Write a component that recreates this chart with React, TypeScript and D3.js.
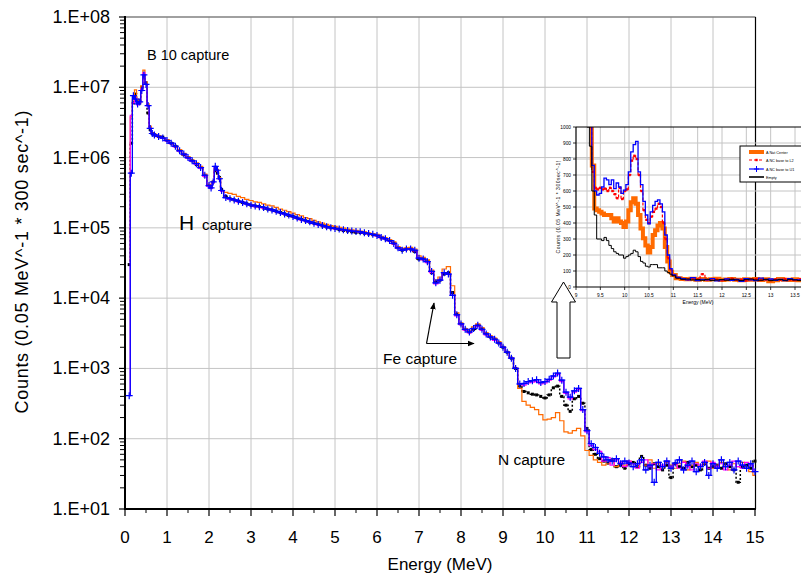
import React from 'react';
import * as d3 from 'd3';

// main chart: energy bins (MeV)
const energy = [
  0.1, 0.15, 0.2, 0.25, 0.3, 0.35, 0.4, 0.45, 0.5, 0.55, 0.6, 0.65, 0.7,
  0.8, 0.9, 1.0, 1.1, 1.2, 1.3, 1.4, 1.5, 1.6, 1.7, 1.8, 1.9, 2.0,
  2.05, 2.1, 2.15, 2.2, 2.25, 2.3,
  2.4, 2.5, 2.6, 2.7, 2.8, 2.9, 3.0, 3.1, 3.2, 3.3, 3.4, 3.5, 3.6, 3.7, 3.8, 3.9,
  4.0, 4.1, 4.2, 4.3, 4.4, 4.5, 4.6, 4.7, 4.8, 4.9, 5.0, 5.1, 5.2, 5.3, 5.4, 5.5,
  5.6, 5.7, 5.8, 5.9, 6.0, 6.1, 6.2, 6.3, 6.4, 6.5, 6.6, 6.7, 6.8, 6.9, 7.0, 7.1,
  7.2, 7.3, 7.4, 7.5, 7.6, 7.7, 7.8, 7.9, 8.0, 8.1, 8.2, 8.3, 8.4, 8.5, 8.6, 8.7,
  8.8, 8.9, 9.0, 9.1, 9.2, 9.3, 9.4, 9.5, 9.6, 9.7, 9.8, 9.9, 10.0, 10.1, 10.2,
  10.3, 10.4, 10.5, 10.6, 10.7, 10.8, 10.9, 11.0,
  11.1, 11.2, 11.3, 11.4, 11.5, 11.6, 11.7, 11.8, 11.9, 12.0, 12.1, 12.2, 12.3,
  12.4, 12.5, 12.6, 12.7, 12.8, 12.9, 13.0, 13.1, 13.2, 13.3, 13.4, 13.5, 13.6,
  13.7, 13.8, 13.9, 14.0, 14.1, 14.2, 14.3, 14.4, 14.5, 14.6, 14.7, 14.8, 14.9, 15.0,
];

// orange
const natCenter = [
  3.5e4, 3.8e6, 6.6e6, 9.2e6, 6.8e6, 6.6e6, 1.05e7, 1.75e7, 1.2e7, 5.8e6, 2.8e6, 2.25e6, 2.15e6,
  2.05e6, 1.9e6, 1.8e6, 1.6e6, 1.45e6, 1.3e6, 1.15e6, 1.02e6, 9.2e5, 8.4e5, 7.5e5, 5.8e5, 4.2e5,
  3.9e5, 4.6e5, 7.0e5, 6.8e5, 5.2e5, 3.3e5,
  3.2e5, 3.1e5, 3.0e5, 2.8e5, 2.7e5, 2.55e5, 2.45e5, 2.35e5, 2.3e5, 2.2e5, 2.1e5, 2.05e5,
  1.95e5, 1.85e5, 1.78e5, 1.7e5, 1.62e5, 1.55e5, 1.48e5, 1.4e5, 1.35e5, 1.28e5, 1.22e5,
  1.17e5, 1.12e5, 1.08e5, 1.05e5, 1.02e5, 9.9e4, 9.6e4, 9.4e4, 9.2e4, 9.0e4, 8.8e4, 8.5e4,
  8.3e4, 8.1e4, 7.6e4, 7.2e4, 6.8e4, 6.3e4, 5.4e4, 5.1e4, 5.2e4, 5.3e4, 5.0e4, 4.0e4, 3.8e4,
  3.5e4, 2.5e4, 1.8e4, 2.0e4, 2.6e4, 2.8e4, 1.5e4, 6.2e3, 4.4e3, 3.7e3, 3.4e3, 3.9e3, 4.3e3,
  3.8e3, 3.2e3, 2.9e3, 2.7e3, 2.4e3, 2.0e3, 1.7e3, 1.4e3, 1.0e3, 520, 340, 300, 280, 260,
  220, 185, 190, 200, 235, 180, 125, 120, 130, 140, 110, 68,
  58, 50, 46, 42, 44, 50, 40, 46, 42, 48, 44, 40, 46, 42, 50, 38, 44, 40, 46, 42,
  38, 44, 48, 36, 42, 46, 40, 44, 48, 38, 42, 46, 40, 36, 44, 40, 46, 38, 34, 30,
];

// magenta
const baseL2 = [
  420, 4.0e6, 6.0e6, 7.0e6, 5.6e6, 6.0e6, 9.5e6, 1.6e7, 1.1e7, 5.4e6, 2.6e6, 2.2e6, 2.1e6,
  1.98e6, 1.88e6, 1.72e6, 1.58e6, 1.42e6, 1.22e6, 1.1e6, 9.8e5, 8.8e5, 8.0e5, 7.0e5, 5.4e5, 3.9e5,
  3.6e5, 4.4e5, 7.3e5, 6.4e5, 4.9e5, 3.3e5,
  2.7e5, 2.55e5, 2.5e5, 2.35e5, 2.3e5, 2.2e5, 2.1e5, 2.0e5, 1.98e5, 1.9e5, 1.85e5, 1.78e5,
  1.7e5, 1.64e5, 1.56e5, 1.5e5, 1.44e5, 1.37e5, 1.3e5, 1.26e5, 1.2e5, 1.15e5, 1.1e5,
  1.07e5, 1.03e5, 1.0e5, 9.7e4, 9.5e4, 9.3e4, 9.1e4, 9.0e4, 8.8e4, 8.7e4, 8.4e4, 8.2e4,
  8.0e4, 7.7e4, 7.2e4, 6.9e4, 6.5e4, 5.9e4, 5.1e4, 4.8e4, 4.9e4, 5.0e4, 4.7e4, 3.7e4, 3.5e4,
  3.2e4, 2.3e4, 1.6e4, 1.8e4, 2.3e4, 2.2e4, 1.1e4, 5.6e3, 4.2e3, 3.5e3, 3.2e3, 3.7e3, 4.0e3,
  3.5e3, 3.0e3, 2.8e3, 2.5e3, 2.3e3, 2.0e3, 1.7e3, 1.4e3, 1.0e3, 600, 580, 620, 640, 650,
  600, 620, 680, 760, 820, 650, 440, 370, 460, 500, 250, 125,
  80, 70, 66, 48, 54, 42, 50, 46, 40, 48, 44, 38, 46, 50, 40, 44, 36, 42, 48, 40,
  44, 38, 46, 40, 36, 44, 42, 48, 38, 46, 40, 44, 36, 42, 48, 40, 38, 46, 42, 36,
];

// blue with + markers
const baseU1 = [
  410, 6.0e5, 7.6e6, 6.8e6, 5.8e6, 6.2e6, 9.0e6, 1.5e7, 1.1e7, 5.5e6, 2.6e6, 2.2e6, 2.1e6,
  2.0e6, 1.9e6, 1.75e6, 1.6e6, 1.45e6, 1.25e6, 1.12e6, 1.0e6, 9.0e5, 8.2e5, 7.2e5, 5.6e5, 4.0e5,
  3.7e5, 4.5e5, 7.5e5, 6.6e5, 5.0e5, 3.4e5,
  2.7e5, 2.6e5, 2.5e5, 2.4e5, 2.3e5, 2.2e5, 2.1e5, 2.05e5, 2.0e5, 1.95e5, 1.85e5, 1.8e5,
  1.72e5, 1.65e5, 1.58e5, 1.52e5, 1.45e5, 1.38e5, 1.32e5, 1.27e5, 1.22e5, 1.16e5, 1.12e5,
  1.08e5, 1.04e5, 1.0e5, 9.8e4, 9.6e4, 9.4e4, 9.2e4, 9.0e4, 8.9e4, 8.8e4, 8.5e4, 8.3e4,
  8.1e4, 7.8e4, 7.3e4, 7.0e4, 6.6e4, 6.0e4, 5.2e4, 4.8e4, 5.0e4, 5.0e4, 4.8e4, 3.7e4, 3.6e4,
  3.3e4, 2.4e4, 1.65e4, 1.8e4, 2.3e4, 2.2e4, 1.1e4, 5.8e3, 4.3e3, 3.6e3, 3.3e3, 3.7e3, 4.1e3,
  3.6e3, 3.1e3, 2.8e3, 2.6e3, 2.3e3, 2.0e3, 1.7e3, 1.4e3, 1.0e3, 600, 610, 650, 670, 690,
  630, 650, 700, 780, 860, 680, 460, 390, 480, 520, 260, 130,
  85, 75, 62, 55, 50, 48, 52, 44, 48, 45, 40, 44, 50, 36, 42, 24, 46, 40, 48, 38,
  45, 50, 36, 42, 48, 34, 40, 46, 30, 44, 38, 50, 40, 46, 36, 48, 42, 38, 44, 34,
];

// black dotted
const emptyRun = [
  3.0e4, 1.6e6, 6.0e6, 8.0e6, 6.2e6, 6.0e6, 1.0e7, 1.45e7, 1.15e7, 4.3e6, 2.5e6, 2.2e6, 2.1e6,
  2.0e6, 1.95e6, 1.75e6, 1.6e6, 1.45e6, 1.25e6, 1.1e6, 1.0e6, 9.0e5, 8.0e5, 7.2e5, 5.5e5, 4.0e5,
  3.8e5, 4.5e5, 6.5e5, 6.0e5, 5.2e5, 3.5e5,
  2.8e5, 2.6e5, 2.5e5, 2.4e5, 2.3e5, 2.2e5, 2.1e5, 2.05e5, 2.0e5, 1.92e5, 1.85e5, 1.8e5,
  1.72e5, 1.65e5, 1.58e5, 1.5e5, 1.45e5, 1.38e5, 1.32e5, 1.26e5, 1.2e5, 1.16e5, 1.12e5,
  1.07e5, 1.03e5, 1.0e5, 9.8e4, 9.5e4, 9.2e4, 9.0e4, 8.8e4, 8.6e4, 8.6e4, 8.4e4, 8.2e4,
  8.0e4, 7.8e4, 7.2e4, 7.0e4, 6.6e4, 6.0e4, 5.2e4, 4.8e4, 5.0e4, 5.0e4, 4.6e4, 3.6e4, 3.6e4,
  3.3e4, 2.3e4, 1.7e4, 1.8e4, 2.2e4, 2.3e4, 1.2e4, 5.9e3, 4.3e3, 3.6e3, 3.3e3, 3.6e3, 4.1e3,
  3.6e3, 3.1e3, 2.8e3, 2.6e3, 2.3e3, 2.0e3, 1.7e3, 1.4e3, 1.0e3, 560, 470, 450, 430, 420,
  400, 380, 420, 530, 560, 400, 300, 245, 370, 400, 320, 140,
  70, 60, 52, 48, 45, 50, 40, 42, 38, 44, 46, 40, 56, 42, 38, 44, 40, 36, 42, 28,
  44, 40, 38, 46, 40, 42, 36, 44, 38, 40, 42, 38, 44, 40, 36, 24, 40, 42, 38, 48,
];

const yTicks = [1e1, 1e2, 1e3, 1e4, 1e5, 1e6, 1e7, 1e8];
const yTickLabels = ['1.E+01', '1.E+02', '1.E+03', '1.E+04', '1.E+05', '1.E+06', '1.E+07', '1.E+08'];
const xTicks = [0, 1, 2, 3, 4, 5, 6, 7, 8, 9, 10, 11, 12, 13, 14, 15];

// inset (linear counts, 9 - 14 MeV)
const insetEnergy = [
  9.2, 9.25, 9.3, 9.35, 9.4, 9.45, 9.5, 9.55, 9.6, 9.65, 9.7, 9.75, 9.8, 9.85, 9.9, 9.95,
  10.0, 10.05, 10.1, 10.15, 10.2, 10.25, 10.3, 10.35, 10.4, 10.45, 10.5, 10.55, 10.6, 10.65,
  10.7, 10.75, 10.8, 10.85, 10.9, 10.95, 11.0,
  11.1, 11.2, 11.3, 11.4, 11.5, 11.6, 11.7, 11.8, 11.9, 12.0, 12.1, 12.2, 12.3, 12.4,
  12.5, 12.6, 12.7, 12.8, 12.9, 13.0, 13.1, 13.2, 13.3, 13.4, 13.5, 13.6, 13.7, 13.8,
];
const insetCenter = [
  1500, 1200, 1050, 760, 490, 480, 470, 460, 450, 450, 450, 430, 410, 430, 410, 400,
  375, 410, 480, 530, 555, 520, 450, 365, 305, 260, 215, 250, 325, 355,
  385, 400, 365, 250, 160, 95, 75,
  55, 50, 48, 52, 45, 50, 46, 48, 52, 44, 47, 50, 45, 42,
  48, 46, 50, 44, 48, 36, 42, 50, 46, 44, 48, 42, 46, 44,
];
const insetL2 = [
  1400, 1200, 1000, 720, 620, 610, 620, 610, 615, 600, 620, 600, 580, 555, 620, 550,
  600, 610, 700, 790, 820, 800, 700, 600, 480, 420, 400, 440, 470, 490,
  520, 500, 400, 300, 180, 110, 75,
  58, 50, 46, 52, 48, 80, 44, 50, 46, 42, 48, 52, 44, 46,
  40, 48, 50, 44, 46, 42, 48, 44, 50, 46, 42, 48, 44, 46,
];
const insetU1 = [
  1500, 1300, 1100, 760, 600, 575, 585, 625, 680, 670, 640, 670, 615, 650, 625, 585,
  605, 640, 720, 845, 890, 910, 720, 640, 535, 450, 395, 470, 510, 535,
  545, 520, 470, 325, 200, 115, 75,
  60, 52, 45, 58, 40, 48, 44, 52, 38, 46, 50, 42, 48, 36,
  52, 44, 40, 55, 46, 50, 42, 48, 40, 52, 46, 44, 48, 42,
];
const insetEmpty = [
  1200, 1000, 880, 600, 450, 300, 300, 290, 310, 290, 260, 240, 220, 210, 200, 200,
  180, 190, 200, 210, 230, 220, 190, 160, 150, 130, 125, 140, 140, 140,
  120, 120, 120, 100, 90, 80, 70,
  55, 48, 50, 44, 46, 42, 48, 40, 44, 46, 42, 48, 44, 40,
  46, 50, 44, 42, 48, 40, 44, 46, 42, 48, 44, 40, 46, 44,
];
const insetXTicks = [9, 9.5, 10, 10.5, 11, 11.5, 12, 12.5, 13, 13.5, 14];
const insetXTickLabels = ['9', '9.5', '10', '10.5', '11', '11.5', '12', '12.5', '13', '13.5', '14'];
const insetYTicks = [0, 100, 200, 300, 400, 500, 600, 700, 800, 900, 1000];
const legendNames = ['A Nat Center', 'A NC base to L2', 'A NC base to U1', 'Empty'];

const FONT = "'Liberation Sans', Arial, Helvetica, sans-serif";
const ORANGE = '#ff6a00';

const App = () => {
  // main scales
  const x = d3.scaleLinear().domain([0, 15]).range([125, 755]);
  const y = d3.scaleLog().domain([10, 1e8]).range([509, 17]);

  const line = d3.line<number>()
    .x((_, i) => x(energy[i]))
    .y(d => y(d))
    .curve(d3.curveStep);

  const plus = baseU1.map((d, i) => {
    const px = x(energy[i]);
    const py = y(d);
    return `M${px - 3.5},${py}h7M${px},${py - 3.5}v7`;
  }).join('');

  const minorY = y.ticks().filter(t => !yTicks.includes(t));

  // inset scales
  const xi = d3.scaleLinear().domain([9, 13.5]).range([576, 795]);
  const yi = d3.scaleLinear().domain([0, 1000]).range([287, 127]);
  const lineIn = d3.line<number>()
    .x((_, i) => xi(insetEnergy[i]))
    .y(d => yi(d))
    .curve(d3.curveStep);

  const fe = { x: 426.5, y: 343.5 };

  return (
    <svg width={801} height={575} style={{ position: 'absolute', left: 0, top: 0, background: '#fff' }}
      fontFamily={FONT}>
      <defs>
        <clipPath id="insetClip">
          <rect x={576} y={127} width={260} height={160} />
        </clipPath>
        <marker id="head" viewBox="0 0 10 10" refX="9" refY="5" markerWidth="7" markerHeight="7"
          orient="auto-start-reverse" markerUnits="userSpaceOnUse">
          <path d="M0,1 L10,5 L0,9 z" fill="#000" />
        </marker>
      </defs>
      <rect x={0} y={0} width={801} height={575} fill="#fff" />

      {/* main gridlines */}
      {xTicks.slice(1, -1).map(t => (
        <line key={'gx' + t} x1={x(t)} x2={x(t)} y1={17} y2={509} stroke="#c4c4c4" strokeWidth={1} />
      ))}
      {yTicks.slice(1, -1).map(t => (
        <line key={'gy' + t} x1={125} x2={755} y1={y(t)} y2={y(t)} stroke="#c4c4c4" strokeWidth={1} />
      ))}
      <line x1={125} x2={755.5} y1={17} y2={17} stroke="#808080" strokeWidth={1.5} />
      <line x1={755.5} x2={755.5} y1={17} y2={509} stroke="#000" strokeWidth={1.2} />

      {/* main series */}
      <path d={line(emptyRun) ?? ''} fill="none" stroke="#000" strokeWidth={1.5} strokeDasharray="2,2" />
      {emptyRun.map((d, i) => (
        <rect key={'sq' + i} x={x(energy[i]) - 1.5} y={y(d) - 1.5} width={3} height={3} fill="#000" />
      ))}
      <path d={line(natCenter) ?? ''} fill="none" stroke={ORANGE} strokeWidth={1.2} />
      <path d={line(baseL2) ?? ''} fill="none" stroke="#ff00ff" strokeWidth={1.2} />
      <path d={line(baseU1) ?? ''} fill="none" stroke="#0000ff" strokeWidth={1.3} />
      <path d={plus} fill="none" stroke="#0000ff" strokeWidth={1.2} />

      {/* axes */}
      <line x1={125} x2={125} y1={16} y2={510} stroke="#000" strokeWidth={2} />
      <line x1={124} x2={756} y1={509} y2={509} stroke="#000" strokeWidth={2} />
      {yTicks.map((t, i) => (
        <g key={'yt' + t}>
          <line x1={119} x2={125} y1={y(t)} y2={y(t)} stroke="#000" strokeWidth={1.2} />
          <text x={110} y={y(t) + 6} textAnchor="end" fontSize={18} fill="#000">{yTickLabels[i]}</text>
        </g>
      ))}
      {minorY.map(t => (
        <line key={'ym' + t} x1={120} x2={125} y1={y(t)} y2={y(t)} stroke="#000" strokeWidth={1} />
      ))}
      {xTicks.map(t => (
        <g key={'xt' + t}>
          <line x1={x(t)} x2={x(t)} y1={509} y2={516} stroke="#000" strokeWidth={1.2} />
          <text x={x(t)} y={543} textAnchor="middle" fontSize={17} fill="#000">{t}</text>
        </g>
      ))}
      {xTicks.slice(0, -1).map(t => (
        <line key={'xm' + t} x1={x(t + 0.5)} x2={x(t + 0.5)} y1={509} y2={513} stroke="#000" strokeWidth={1} />
      ))}
      <text x={440} y={570} textAnchor="middle" fontSize={17} fill="#000">Energy (MeV)</text>
      <text transform="translate(28,262) rotate(-90)" textAnchor="middle" fontSize={18} fill="#000"
        textLength={303} lengthAdjust="spacing">
        Counts (0.05 MeV^-1 * 300 sec^-1)
      </text>

      {/* annotations */}
      <text x={147} y={60} fontSize={14.5} fill="#000">B 10 capture</text>
      <text x={179} y={230} fontSize={21} fill="#000">H</text>
      <text x={202} y={230} fontSize={15} fill="#000">capture</text>
      <text x={383} y={364} fontSize={15.5} fill="#000">Fe capture</text>
      <text x={498} y={465} fontSize={15.5} fill="#000">N capture</text>
      <line x1={fe.x} y1={fe.y} x2={434} y2={303} stroke="#000" strokeWidth={1.2} markerEnd="url(#head)" />
      <line x1={fe.x} y1={fe.y} x2={474} y2={fe.y} stroke="#000" strokeWidth={1.2} markerEnd="url(#head)" />
      <path d="M563.5,282 L575.5,302 L570,302 L570,358 L557,358 L557,302 L551.5,302 Z"
        fill="#fff" stroke="#000" strokeWidth={1} />

      {/* inset chart */}
      <g>
        {insetYTicks.slice(1, -1).map(t => (
          <line key={'igy' + t} x1={576} x2={801} y1={yi(t)} y2={yi(t)} stroke="#c4c4c4" strokeWidth={1} />
        ))}
        {insetXTicks.slice(1).map(t => (
          <line key={'igx' + t} x1={xi(t)} x2={xi(t)} y1={127} y2={287} stroke="#c4c4c4" strokeWidth={1} />
        ))}
        <g clipPath="url(#insetClip)">
          <path d={lineIn(insetCenter) ?? ''} fill="none" stroke={ORANGE} strokeWidth={4} />
          <path d={lineIn(insetL2) ?? ''} fill="none" stroke="#ff0000" strokeWidth={1.2} strokeDasharray="3,2" />
          {insetL2.map((d, i) => (
            <rect key={'ir' + i} x={xi(insetEnergy[i]) - 1.2} y={yi(d) - 1.2} width={2.4} height={2.4} fill="#ff0000" />
          ))}
          <path d={lineIn(insetU1) ?? ''} fill="none" stroke="#0000ff" strokeWidth={1.3} />
          <path d={lineIn(insetEmpty) ?? ''} fill="none" stroke="#000" strokeWidth={1} />
        </g>
        <line x1={576} x2={801} y1={127} y2={127} stroke="#000" strokeWidth={1} />
        <line x1={576} x2={576} y1={127} y2={287} stroke="#000" strokeWidth={1.2} />
        <line x1={576} x2={801} y1={287} y2={287} stroke="#000" strokeWidth={1.2} />
        {insetYTicks.map(t => (
          <g key={'iyt' + t}>
            <line x1={573} x2={576} y1={yi(t)} y2={yi(t)} stroke="#000" strokeWidth={0.8} />
            <text x={571} y={yi(t) + 1.8} textAnchor="end" fontSize={4.8} fill="#000">{t}</text>
          </g>
        ))}
        {insetXTicks.map((t, i) => (
          <g key={'ixt' + t}>
            <line x1={xi(t)} x2={xi(t)} y1={287} y2={290} stroke="#000" strokeWidth={0.8} />
            {xi(t) < 798 && (
              <text x={xi(t)} y={297} textAnchor="middle" fontSize={4.8} fill="#000">{insetXTickLabels[i]}</text>
            )}
          </g>
        ))}
        <text x={698} y={304} textAnchor="middle" fontSize={5} fill="#000">Energy (MeV)</text>
        <text transform="translate(560,207) rotate(-90)" textAnchor="middle" fontSize={5} fill="#000"
          textLength={93} lengthAdjust="spacing">
          Counts (0.05 MeV^-1 * 300sec^-1)
        </text>

        {/* inset legend */}
        <rect x={740} y={146} width={70} height={36} fill="#fff" stroke="#000" strokeWidth={1} />
        {legendNames.map((name, i) => {
          const ly = [152, 160, 169, 177][i];
          return (
            <g key={name}>
              {i === 0 && <line x1={749} x2={764} y1={ly} y2={ly} stroke={ORANGE} strokeWidth={4} />}
              {i === 1 && (
                <g>
                  <line x1={749} x2={764} y1={ly} y2={ly} stroke="#ff0000" strokeWidth={1} strokeDasharray="3,2" />
                  <rect x={755.3} y={ly - 1.2} width={2.4} height={2.4} fill="#ff0000" />
                </g>
              )}
              {i === 2 && (
                <g>
                  <line x1={749} x2={764} y1={ly} y2={ly} stroke="#0000ff" strokeWidth={1.2} />
                  <path d={`M${756.5},${ly - 3}v6M${754},${ly}h5`} stroke="#0000ff" strokeWidth={1} />
                </g>
              )}
              {i === 3 && <line x1={749} x2={764} y1={ly} y2={ly} stroke="#333" strokeWidth={2} />}
              <text x={766} y={ly + 1.5} fontSize={3.8} fill="#000">{name}</text>
            </g>
          );
        })}
      </g>
    </svg>
  );
};

export default App;
